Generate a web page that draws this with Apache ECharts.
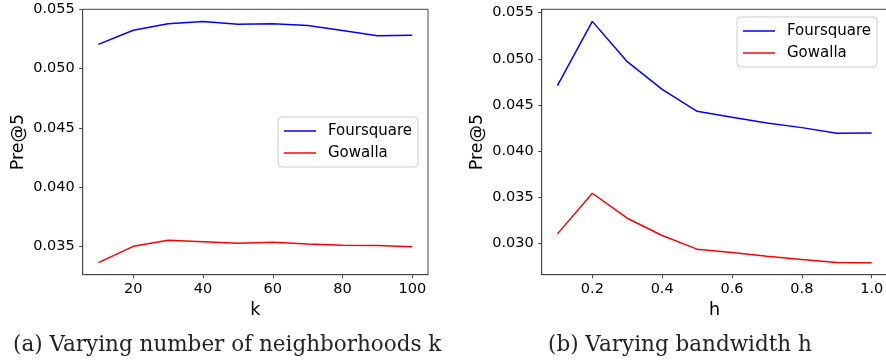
<!DOCTYPE html>
<html>
<head>
<meta charset="utf-8">
<script src="https://cdn.jsdelivr.net/npm/echarts@6/dist/echarts.min.js"></script>
<style>
  html, body { margin: 0; padding: 0; background: #fff; }
  #chart { width: 886px; height: 362px; }
</style>
</head>
<body>
<div id="chart"></div>
<script>
// (a) neighbourhoods k
var kValues = [10, 20, 30, 40, 50, 60, 70, 80, 90, 100]
var kFoursquare = [0.05205, 0.05325, 0.05379, 0.05398, 0.05376, 0.05379, 0.05365, 0.05323, 0.05278, 0.05283]
var kGowalla = [0.03359, 0.03497, 0.03548, 0.03536, 0.03522, 0.03531, 0.03517, 0.03506, 0.03503, 0.03494]
var kTicks = [20, 40, 60, 80, 100]

// (b) bandwidth h
var hValues = [0.1, 0.2, 0.3, 0.4, 0.5, 0.6, 0.7, 0.8, 0.9, 1.0]
var hFoursquare = [0.04709, 0.05406, 0.04969, 0.04669, 0.04430, 0.04365, 0.04304, 0.04253, 0.04192, 0.04195]
var hGowalla = [0.03100, 0.03541, 0.03270, 0.03082, 0.02934, 0.02897, 0.02858, 0.02821, 0.02789, 0.02788]
var hTicks = [0.2, 0.4, 0.6, 0.8, 1.0]

var yTicksA = [0.035, 0.040, 0.045, 0.050, 0.055]
var yTicksB = [0.030, 0.035, 0.040, 0.045, 0.050, 0.055]

var font = 'DejaVu Sans'
var axisColor = '#444'

function pairs(xs, ys) {
  return xs.map(function(x, i) { return [x, ys[i]] })
}

function xAxisOf(gridIndex, min, max, ticks, name, digits) {
  return {
    type: 'value',
    gridIndex: gridIndex,
    min: min,
    max: max,
    name: name,
    nameLocation: 'middle',
    nameGap: 25,
    nameTextStyle: { fontFamily: font, fontSize: 17.5, color: '#000' },
    axisLine: { show: true, onZero: false, lineStyle: { color: axisColor, width: 1 } },
    axisTick: { show: true, length: 3.5, customValues: ticks, lineStyle: { color: axisColor } },
    axisLabel: {
      customValues: ticks,
      margin: 7,
      fontFamily: font,
      fontSize: 14.5,
      color: '#000',
      formatter: function(v) { return digits ? v.toFixed(digits) : String(v) }
    },
    splitLine: { show: false }
  }
}

function yAxisOf(gridIndex, min, max, ticks) {
  return {
    type: 'value',
    gridIndex: gridIndex,
    min: min,
    max: max,
    name: 'Pre@5',
    nameLocation: 'middle',
    nameGap: 55,
    nameTextStyle: { fontFamily: font, fontSize: 17.5, color: '#000' },
    axisLine: { show: true, onZero: false, lineStyle: { color: axisColor, width: 1 } },
    axisTick: { show: true, length: 3.5, customValues: ticks, lineStyle: { color: axisColor } },
    axisLabel: {
      customValues: ticks,
      margin: 8,
      fontFamily: font,
      fontSize: 14.5,
      color: '#000',
      formatter: function(v) { return v.toFixed(3) }
    },
    splitLine: { show: false }
  }
}

function legendOf(left, top) {
  return {
    orient: 'vertical',
    left: left,
    top: top,
    padding: [6, 6, 6, 6],
    itemGap: 6,
    itemWidth: 32,
    itemHeight: 1.5,
    icon: 'rect',
    borderColor: '#cccccc',
    borderWidth: 1,
    borderRadius: 4,
    backgroundColor: 'rgba(255,255,255,0.8)',
    data: ['Foursquare', 'Gowalla'],
    textStyle: { fontFamily: font, fontSize: 15, color: '#000', lineHeight: 16, padding: [0, 0, 0, 7] }
  }
}

function lineOf(name, color, xi, data) {
  return {
    name: name,
    type: 'line',
    xAxisIndex: xi,
    yAxisIndex: xi,
    data: data,
    symbol: 'none',
    showSymbol: false,
    smooth: false,
    animation: false,
    lineStyle: { color: color, width: 1.5 },
    itemStyle: { color: color }
  }
}

var chart = echarts.init(document.getElementById('chart'), null, { renderer: 'canvas' })

chart.setOption({
  animation: false,
  backgroundColor: '#fff',
  grid: [
    { left: 82.7, top: 9.3, width: 345.3, height: 265.4, show: true, borderColor: axisColor, borderWidth: 1, outerBoundsMode: 'none', containLabel: false },
    { left: 541.7, top: 9.3, width: 345.7, height: 265.4, show: true, borderColor: axisColor, borderWidth: 1, outerBoundsMode: 'none', containLabel: false }
  ],
  xAxis: [
    xAxisOf(0, 5.5, 104.5, kTicks, 'k', 0),
    xAxisOf(1, 0.055, 1.045, hTicks, 'h', 1)
  ],
  yAxis: [
    yAxisOf(0, 0.03257, 0.05502, yTicksA),
    yAxisOf(1, 0.02657, 0.05537, yTicksB)
  ],
  legend: [
    legendOf(278, 117),
    legendOf(737, 17)
  ],
  series: [
    lineOf('Foursquare', '#0000ff', 0, pairs(kValues, kFoursquare)),
    lineOf('Gowalla', '#ff0000', 0, pairs(kValues, kGowalla)),
    lineOf('Foursquare', '#0000ff', 1, pairs(hValues, hFoursquare)),
    lineOf('Gowalla', '#ff0000', 1, pairs(hValues, hGowalla))
  ],
  graphic: [
    {
      type: 'text',
      x: 13,
      y: 345,
      style: { text: '(a) Varying number of neighborhoods k', font: '21.5px "DejaVu Serif"', fill: '#222', verticalAlign: 'middle' }
    },
    {
      type: 'text',
      x: 548,
      y: 345,
      style: { text: '(b) Varying bandwidth h', font: '21.5px "DejaVu Serif"', fill: '#222', verticalAlign: 'middle' }
    }
  ]
})
</script>
</body>
</html>
